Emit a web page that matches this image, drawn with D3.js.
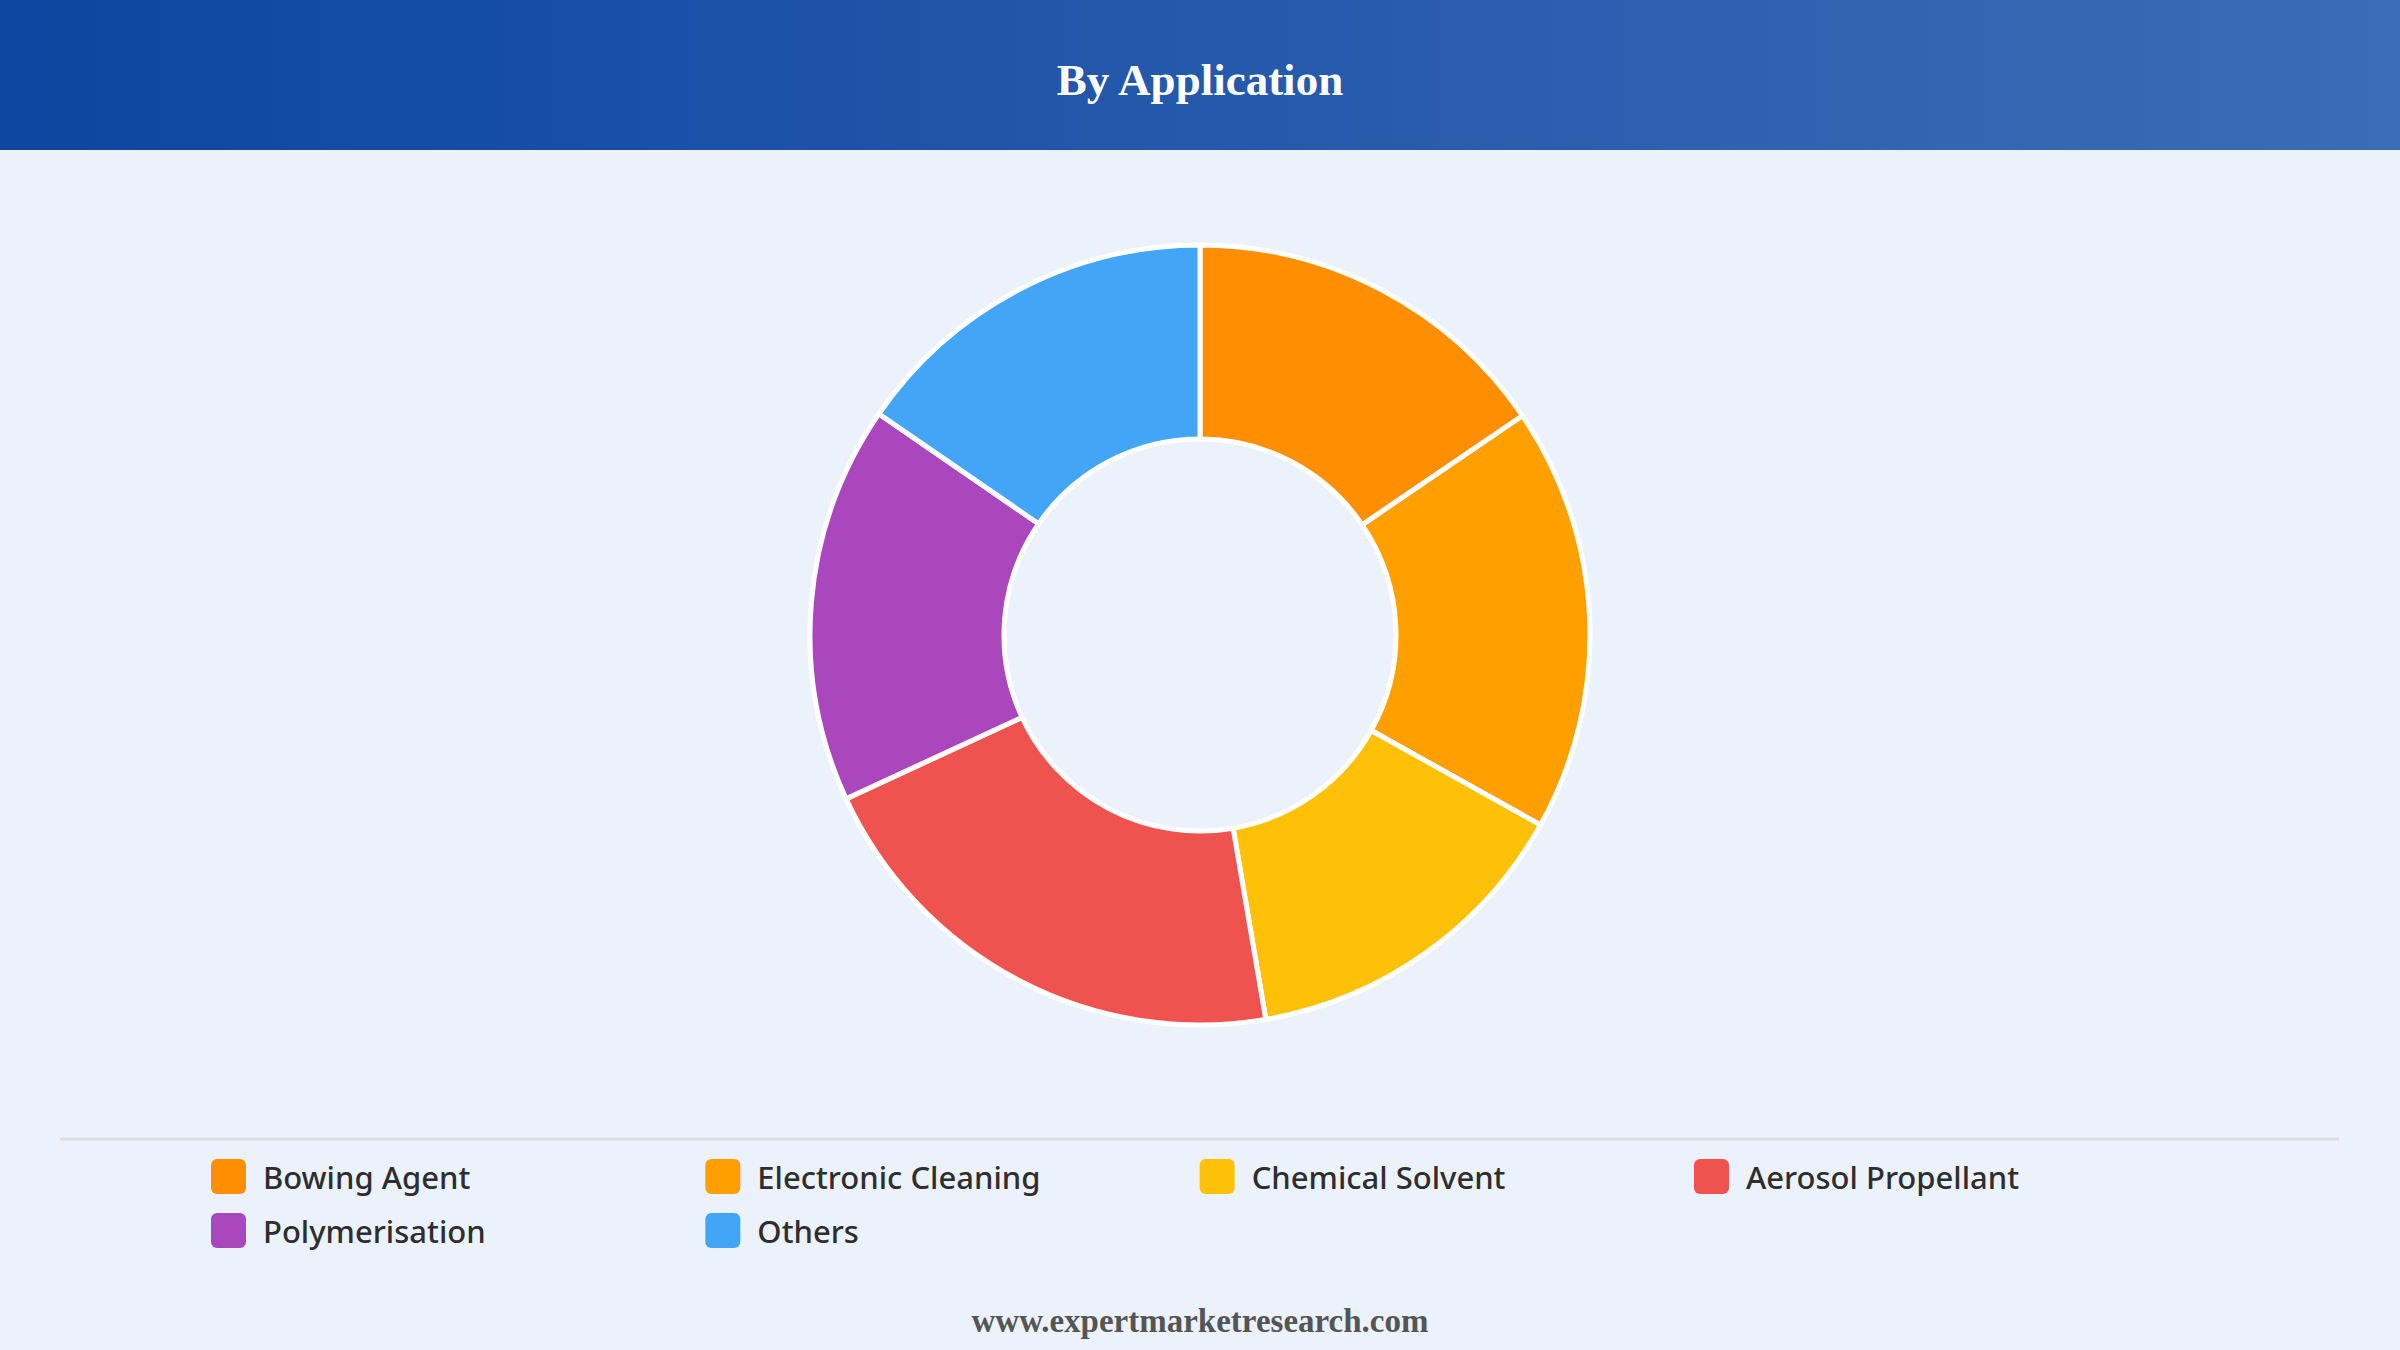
<!DOCTYPE html>
<html>
<head>
<meta charset="utf-8">
<script src="https://cdn.jsdelivr.net/npm/d3@7"></script>
<style>
  html, body { margin: 0; padding: 0; background: #ebf2fc; }
  svg { display: block; }
</style>
</head>
<body>
<div id="chart"></div>
<script>
// values (share, %)
const categories = ['Bowing Agent', 'Electronic Cleaning', 'Chemical Solvent', 'Aerosol Propellant', 'Polymerisation', 'Others'];
const shares = [15.5, 17.6, 14.2, 20.8, 16.5, 15.4];
const colours = ['#ff8f00', '#ffa000', '#ffc107', '#ef5350', '#ab47bc', '#42a5f5'];

const W = 2400, H = 1350;
const svg = d3.select('#chart').append('svg')
  .attr('width', W)
  .attr('height', H);

//background + header band
svg.append('rect').attr('width', W).attr('height', H).attr('fill', '#ebf2fc');
const grad = svg.append('defs').append('linearGradient').attr('id', 'hdr');
grad.append('stop').attr('offset', '0%').attr('stop-color', '#0d45a0');
grad.append('stop').attr('offset', '100%').attr('stop-color', '#3b6cb6');
svg.append('rect').attr('width', W).attr('height', 150).attr('fill', 'url(#hdr)');
svg.append('text')
  .attr('x', W / 2).attr('y', 95)
  .attr('text-anchor', 'middle')
  .style('font-family', '"Liberation Serif", "Times New Roman", serif')
  .style('font-weight', 'bold')
  .style('font-size', '45px')
  .style('fill', '#fff')
  .text('By Application');

//donut
const pie = d3.pie().sort(null).value(d => d);
const arc = d3.arc().innerRadius(196).outerRadius(390);
const g = svg.append('g').attr('transform', `translate(${W / 2},635)`);
g.selectAll('path')
  .data(pie(shares))
  .join('path')
  .attr('d', arc)
  .attr('fill', (d, i) => colours[i])
  .attr('stroke', '#fff')
  .attr('stroke-width', 5);

//legend
svg.append('line')
  .attr('x1', 60).attr('x2', 2339)
  .attr('y1', 1139).attr('y2', 1139)
  .attr('stroke', '#d9dde3').attr('stroke-width', 3);

const colX = d3.scalePoint().domain(d3.range(4)).range([211, 1694]);
const item = svg.append('g').selectAll('g')
  .data(categories)
  .join('g')
  .attr('transform', (d, i) => `translate(${colX(i % 4)},${1159 + Math.floor(i / 4) * 54})`);
item.append('rect')
  .attr('width', 35).attr('height', 35).attr('rx', 6)
  .attr('fill', (d, i) => colours[i]);
item.append('text')
  .attr('x', 52).attr('y', 30)
  .style('font-family', '"Noto Sans", "Open Sans", sans-serif')
  .style('font-weight', 500)
  .style('font-size', '31px')
  .style('fill', '#2e2e2e')
  .text(d => d);

//footer
svg.append('text')
  .attr('x', W / 2).attr('y', 1332)
  .attr('text-anchor', 'middle')
  .style('font-family', '"Liberation Serif", "Times New Roman", serif')
  .style('font-weight', 'bold')
  .style('font-size', '33px')
  .style('fill', '#555')
  .text('www.expertmarketresearch.com');
</script>
</body>
</html>
